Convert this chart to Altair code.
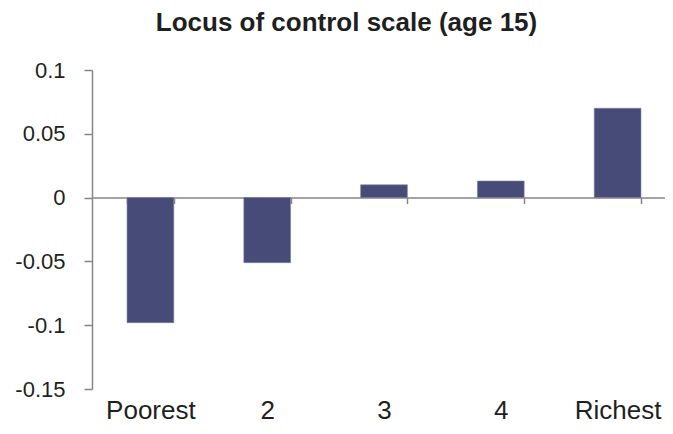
import altair as alt
import pandas as pd

categories = ["Poorest", "2", "3", "4", "Richest"]
values = [-0.098, -0.051, 0.010, 0.013, 0.070]
y_ticks = [-0.15, -0.1, -0.05, 0, 0.05, 0.1]
title_text = "Locus of control scale (age 15)"

df = pd.DataFrame({"cat": categories, "val": values})

W, H = 573, 319      # view size (kept inside the page)
XR = 584             # band range as in the reference (runs to the window edge)
ymin, ymax = -0.15, 0.1
zero_offset = -H * (0 - ymin) / (ymax - ymin)

FONT = "Liberation Sans"
GRAY = "#868686"

chart = alt.Chart(df).mark_bar(color="#464b78", stroke="#7a7fa6", strokeWidth=0.6).encode(
    x=alt.X("cat:N", sort=categories,
            scale=alt.Scale(paddingInner=0.6, paddingOuter=0.3, range=[0, XR]),
            axis=alt.Axis(title=None, orient="bottom", offset=zero_offset,
                          domainColor=GRAY, domainWidth=1.5, tickColor=GRAY, tickWidth=1.5,
                          tickSize=6, tickBand="extent", labelAngle=0,
                          labelFont=FONT, labelFontSize=26, labelColor="#1f1f1f",
                          labelBaseline="alphabetic", labelPadding=215)),
    y=alt.Y("val:Q", scale=alt.Scale(domain=[ymin, ymax], nice=False, zero=False),
            axis=alt.Axis(title=None, values=y_ticks, grid=False,
                          labelExpr="'' + datum.value",
                          domainColor=GRAY, domainWidth=1.5, tickColor=GRAY, tickWidth=1.5,
                          tickSize=8, labelPadding=19,
                          labelFont=FONT, labelFontSize=22, labelColor="#1f1f1f")),
).properties(
    width=W, height=H,
    title=alt.TitleParams(title_text, font=FONT, fontSize=26, fontWeight="bold",
                          color="#1f1f1f", anchor="middle", dx=-32, offset=23),
    autosize=alt.AutoSizeParams(type="none"),
    padding={"left": 84, "top": 62, "right": 0, "bottom": 37},
).configure_view(stroke=None)

chart.save("out.html", embed_options={"renderer": "svg", "actions": False})
